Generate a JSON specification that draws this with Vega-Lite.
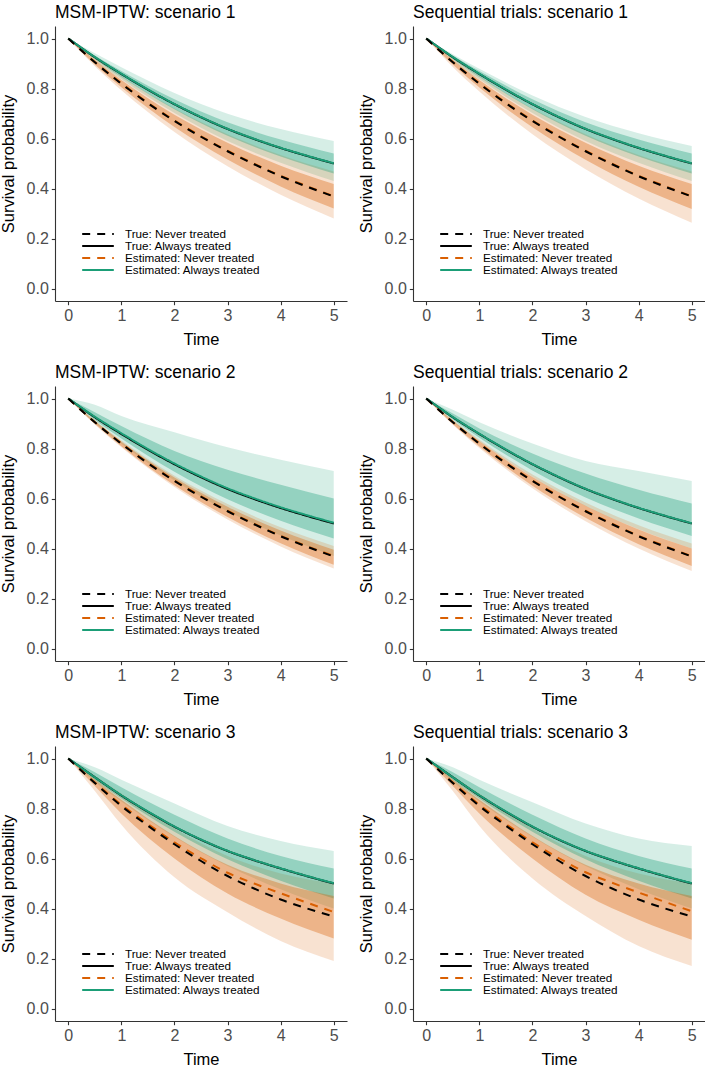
{
"$schema": "https://vega.github.io/schema/vega-lite/v6.json",
"padding": {"left": 0, "top": 3, "right": 0, "bottom": 0},
"datasets": {
"lines": [
{"p":1,"t":0,"tn":1,"ta":1,"en":1,"ea":1},{"p":1,"t":0.5,"tn":0.905,"ta":0.925,"en":0.906,"ea":0.926},{"p":1,"t":1,"tn":0.819,"ta":0.858,"en":0.821,"ea":0.859},{"p":1,"t":1.5,"tn":0.741,"ta":0.795,"en":0.743,"ea":0.796},{"p":1,"t":2,"tn":0.670,"ta":0.737,"en":0.672,"ea":0.738},{"p":1,"t":2.5,"tn":0.607,"ta":0.685,"en":0.609,"ea":0.686},{"p":1,"t":3,"tn":0.549,"ta":0.638,"en":0.551,"ea":0.639},{"p":1,"t":3.5,"tn":0.497,"ta":0.598,"en":0.499,"ea":0.599},{"p":1,"t":4,"tn":0.449,"ta":0.562,"en":0.451,"ea":0.563},{"p":1,"t":4.5,"tn":0.407,"ta":0.530,"en":0.409,"ea":0.531},{"p":1,"t":5,"tn":0.368,"ta":0.500,"en":0.369,"ea":0.501},
{"p":2,"t":0,"tn":1,"ta":1,"en":1,"ea":1},{"p":2,"t":0.5,"tn":0.905,"ta":0.925,"en":0.906,"ea":0.927},{"p":2,"t":1,"tn":0.819,"ta":0.858,"en":0.821,"ea":0.861},{"p":2,"t":1.5,"tn":0.741,"ta":0.795,"en":0.743,"ea":0.798},{"p":2,"t":2,"tn":0.670,"ta":0.737,"en":0.672,"ea":0.740},{"p":2,"t":2.5,"tn":0.607,"ta":0.685,"en":0.609,"ea":0.688},{"p":2,"t":3,"tn":0.549,"ta":0.638,"en":0.551,"ea":0.641},{"p":2,"t":3.5,"tn":0.497,"ta":0.598,"en":0.499,"ea":0.601},{"p":2,"t":4,"tn":0.449,"ta":0.562,"en":0.451,"ea":0.565},{"p":2,"t":4.5,"tn":0.407,"ta":0.530,"en":0.409,"ea":0.533},{"p":2,"t":5,"tn":0.368,"ta":0.500,"en":0.370,"ea":0.503},
{"p":3,"t":0,"tn":1,"ta":1,"en":1,"ea":1},{"p":3,"t":0.5,"tn":0.902,"ta":0.925,"en":0.904,"ea":0.925},{"p":3,"t":1,"tn":0.810,"ta":0.852,"en":0.815,"ea":0.853},{"p":3,"t":1.5,"tn":0.731,"ta":0.787,"en":0.738,"ea":0.788},{"p":3,"t":2,"tn":0.657,"ta":0.727,"en":0.665,"ea":0.728},{"p":3,"t":2.5,"tn":0.590,"ta":0.675,"en":0.601,"ea":0.676},{"p":3,"t":3,"tn":0.530,"ta":0.630,"en":0.543,"ea":0.631},{"p":3,"t":3.5,"tn":0.480,"ta":0.593,"en":0.500,"ea":0.594},{"p":3,"t":4,"tn":0.436,"ta":0.560,"en":0.461,"ea":0.561},{"p":3,"t":4.5,"tn":0.400,"ta":0.529,"en":0.423,"ea":0.530},{"p":3,"t":5,"tn":0.368,"ta":0.500,"en":0.386,"ea":0.501},
{"p":4,"t":0,"tn":1,"ta":1,"en":1,"ea":1},{"p":4,"t":0.5,"tn":0.905,"ta":0.925,"en":0.906,"ea":0.926},{"p":4,"t":1,"tn":0.819,"ta":0.858,"en":0.821,"ea":0.859},{"p":4,"t":1.5,"tn":0.741,"ta":0.795,"en":0.743,"ea":0.796},{"p":4,"t":2,"tn":0.670,"ta":0.737,"en":0.672,"ea":0.738},{"p":4,"t":2.5,"tn":0.607,"ta":0.685,"en":0.609,"ea":0.686},{"p":4,"t":3,"tn":0.549,"ta":0.638,"en":0.551,"ea":0.639},{"p":4,"t":3.5,"tn":0.497,"ta":0.598,"en":0.499,"ea":0.599},{"p":4,"t":4,"tn":0.449,"ta":0.562,"en":0.451,"ea":0.563},{"p":4,"t":4.5,"tn":0.407,"ta":0.530,"en":0.409,"ea":0.531},{"p":4,"t":5,"tn":0.368,"ta":0.500,"en":0.369,"ea":0.501},
{"p":5,"t":0,"tn":1,"ta":1,"en":1,"ea":1},{"p":5,"t":0.5,"tn":0.905,"ta":0.925,"en":0.906,"ea":0.926},{"p":5,"t":1,"tn":0.819,"ta":0.858,"en":0.821,"ea":0.859},{"p":5,"t":1.5,"tn":0.741,"ta":0.795,"en":0.743,"ea":0.796},{"p":5,"t":2,"tn":0.670,"ta":0.737,"en":0.672,"ea":0.738},{"p":5,"t":2.5,"tn":0.607,"ta":0.685,"en":0.609,"ea":0.686},{"p":5,"t":3,"tn":0.549,"ta":0.638,"en":0.551,"ea":0.639},{"p":5,"t":3.5,"tn":0.497,"ta":0.598,"en":0.499,"ea":0.599},{"p":5,"t":4,"tn":0.449,"ta":0.562,"en":0.451,"ea":0.563},{"p":5,"t":4.5,"tn":0.407,"ta":0.530,"en":0.409,"ea":0.531},{"p":5,"t":5,"tn":0.368,"ta":0.500,"en":0.369,"ea":0.501},
{"p":6,"t":0,"tn":1,"ta":1,"en":1,"ea":1},{"p":6,"t":0.5,"tn":0.902,"ta":0.925,"en":0.904,"ea":0.925},{"p":6,"t":1,"tn":0.810,"ta":0.852,"en":0.815,"ea":0.853},{"p":6,"t":1.5,"tn":0.731,"ta":0.787,"en":0.738,"ea":0.788},{"p":6,"t":2,"tn":0.657,"ta":0.727,"en":0.665,"ea":0.728},{"p":6,"t":2.5,"tn":0.590,"ta":0.675,"en":0.601,"ea":0.676},{"p":6,"t":3,"tn":0.530,"ta":0.630,"en":0.545,"ea":0.631},{"p":6,"t":3.5,"tn":0.480,"ta":0.593,"en":0.503,"ea":0.594},{"p":6,"t":4,"tn":0.436,"ta":0.560,"en":0.464,"ea":0.561},{"p":6,"t":4.5,"tn":0.400,"ta":0.529,"en":0.426,"ea":0.530},{"p":6,"t":5,"tn":0.368,"ta":0.500,"en":0.389,"ea":0.501}
],
"bands": [
{"p":1,"g":"g","t":0,"lo1":1,"hi1":1,"lo2":1,"hi2":1},{"p":1,"g":"g","t":0.5,"lo1":0.9125,"hi1":0.941,"lo2":0.918,"hi2":0.932},{"p":1,"g":"g","t":1,"lo1":0.837,"hi1":0.885,"lo2":0.846,"hi2":0.870},{"p":1,"g":"g","t":2,"lo1":0.702,"hi1":0.782,"lo2":0.717,"hi2":0.757},{"p":1,"g":"g","t":3,"lo1":0.590,"hi1":0.699,"lo2":0.611,"hi2":0.665},{"p":1,"g":"g","t":4,"lo1":0.503,"hi1":0.638,"lo2":0.528,"hi2":0.596},{"p":1,"g":"g","t":5,"lo1":0.43,"hi1":0.59,"lo2":0.46,"hi2":0.54},
{"p":1,"g":"o","t":0,"lo1":1,"hi1":1,"lo2":1,"hi2":1},{"p":1,"g":"o","t":0.5,"lo1":0.889,"hi1":0.923,"lo2":0.896,"hi2":0.914},{"p":1,"g":"o","t":1,"lo1":0.793,"hi1":0.849,"lo2":0.805,"hi2":0.834},{"p":1,"g":"o","t":2,"lo1":0.626,"hi1":0.720,"lo2":0.646,"hi2":0.695},{"p":1,"g":"o","t":3,"lo1":0.489,"hi1":0.617,"lo2":0.516,"hi2":0.583},{"p":1,"g":"o","t":4,"lo1":0.375,"hi1":0.534,"lo2":0.408,"hi2":0.491},{"p":1,"g":"o","t":5,"lo1":0.28,"hi1":0.468,"lo2":0.32,"hi2":0.418},
{"p":2,"g":"g","t":0,"lo1":1,"hi1":1,"lo2":1,"hi2":1},{"p":2,"g":"g","t":0.5,"lo1":0.902,"hi1":0.975,"lo2":0.914,"hi2":0.945},{"p":2,"g":"g","t":1,"lo1":0.819,"hi1":0.93,"lo2":0.840,"hi2":0.89},{"p":2,"g":"g","t":2,"lo1":0.672,"hi1":0.865,"lo2":0.707,"hi2":0.79},{"p":2,"g":"g","t":3,"lo1":0.549,"hi1":0.805,"lo2":0.597,"hi2":0.715},{"p":2,"g":"g","t":4,"lo1":0.452,"hi1":0.755,"lo2":0.511,"hi2":0.655},{"p":2,"g":"g","t":5,"lo1":0.37,"hi1":0.71,"lo2":0.44,"hi2":0.60},
{"p":2,"g":"o","t":0,"lo1":1,"hi1":1,"lo2":1,"hi2":1},{"p":2,"g":"o","t":0.5,"lo1":0.8965,"hi1":0.9125,"lo2":0.899,"hi2":0.910},{"p":2,"g":"o","t":1,"lo1":0.805,"hi1":0.832,"lo2":0.809,"hi2":0.827},{"p":2,"g":"o","t":2,"lo1":0.646,"hi1":0.691,"lo2":0.653,"hi2":0.684},{"p":2,"g":"o","t":3,"lo1":0.516,"hi1":0.578,"lo2":0.526,"hi2":0.567},{"p":2,"g":"o","t":4,"lo1":0.408,"hi1":0.485,"lo2":0.421,"hi2":0.472},{"p":2,"g":"o","t":5,"lo1":0.32,"hi1":0.41,"lo2":0.335,"hi2":0.395},
{"p":3,"g":"g","t":0,"lo1":1,"hi1":1,"lo2":1,"hi2":1},{"p":3,"g":"g","t":0.5,"lo1":0.907,"hi1":0.965,"lo2":0.914,"hi2":0.945},{"p":3,"g":"g","t":1,"lo1":0.828,"hi1":0.915,"lo2":0.840,"hi2":0.885},{"p":3,"g":"g","t":2,"lo1":0.687,"hi1":0.82,"lo2":0.707,"hi2":0.775},{"p":3,"g":"g","t":3,"lo1":0.570,"hi1":0.73,"lo2":0.597,"hi2":0.68},{"p":3,"g":"g","t":4,"lo1":0.477,"hi1":0.67,"lo2":0.511,"hi2":0.61},{"p":3,"g":"g","t":5,"lo1":0.40,"hi1":0.63,"lo2":0.44,"hi2":0.56},
{"p":3,"g":"o","t":0,"lo1":1,"hi1":1,"lo2":1,"hi2":1},{"p":3,"g":"o","t":0.5,"lo1":0.87,"hi1":0.93,"lo2":0.89,"hi2":0.915},{"p":3,"g":"o","t":1,"lo1":0.735,"hi1":0.86,"lo2":0.78,"hi2":0.835},{"p":3,"g":"o","t":2,"lo1":0.525,"hi1":0.72,"lo2":0.60,"hi2":0.69},{"p":3,"g":"o","t":3,"lo1":0.385,"hi1":0.61,"lo2":0.46,"hi2":0.575},{"p":3,"g":"o","t":4,"lo1":0.27,"hi1":0.54,"lo2":0.36,"hi2":0.50},{"p":3,"g":"o","t":5,"lo1":0.19,"hi1":0.50,"lo2":0.28,"hi2":0.45},
{"p":4,"g":"g","t":0,"lo1":1,"hi1":1,"lo2":1,"hi2":1},{"p":4,"g":"g","t":0.5,"lo1":0.9125,"hi1":0.9375,"lo2":0.918,"hi2":0.932},{"p":4,"g":"g","t":1,"lo1":0.837,"hi1":0.879,"lo2":0.846,"hi2":0.870},{"p":4,"g":"g","t":2,"lo1":0.702,"hi1":0.772,"lo2":0.717,"hi2":0.757},{"p":4,"g":"g","t":3,"lo1":0.590,"hi1":0.686,"lo2":0.611,"hi2":0.665},{"p":4,"g":"g","t":4,"lo1":0.503,"hi1":0.621,"lo2":0.528,"hi2":0.596},{"p":4,"g":"g","t":5,"lo1":0.43,"hi1":0.57,"lo2":0.46,"hi2":0.54},
{"p":4,"g":"o","t":0,"lo1":1,"hi1":1,"lo2":1,"hi2":1},{"p":4,"g":"o","t":0.5,"lo1":0.886,"hi1":0.923,"lo2":0.896,"hi2":0.914},{"p":4,"g":"o","t":1,"lo1":0.788,"hi1":0.849,"lo2":0.804,"hi2":0.834},{"p":4,"g":"o","t":2,"lo1":0.617,"hi1":0.720,"lo2":0.645,"hi2":0.695},{"p":4,"g":"o","t":3,"lo1":0.477,"hi1":0.617,"lo2":0.515,"hi2":0.583},{"p":4,"g":"o","t":4,"lo1":0.360,"hi1":0.534,"lo2":0.407,"hi2":0.491},{"p":4,"g":"o","t":5,"lo1":0.263,"hi1":0.468,"lo2":0.318,"hi2":0.418},
{"p":5,"g":"g","t":0,"lo1":1,"hi1":1,"lo2":1,"hi2":1},{"p":5,"g":"g","t":0.5,"lo1":0.907,"hi1":0.955,"lo2":0.916,"hi2":0.94},{"p":5,"g":"g","t":1,"lo1":0.828,"hi1":0.905,"lo2":0.843,"hi2":0.88},{"p":5,"g":"g","t":2,"lo1":0.687,"hi1":0.82,"lo2":0.712,"hi2":0.78},{"p":5,"g":"g","t":3,"lo1":0.570,"hi1":0.75,"lo2":0.604,"hi2":0.70},{"p":5,"g":"g","t":4,"lo1":0.477,"hi1":0.71,"lo2":0.520,"hi2":0.635},{"p":5,"g":"g","t":5,"lo1":0.40,"hi1":0.67,"lo2":0.45,"hi2":0.58},
{"p":5,"g":"o","t":0,"lo1":1,"hi1":1,"lo2":1,"hi2":1},{"p":5,"g":"o","t":0.5,"lo1":0.895,"hi1":0.914,"lo2":0.898,"hi2":0.911},{"p":5,"g":"o","t":1,"lo1":0.802,"hi1":0.835,"lo2":0.808,"hi2":0.829},{"p":5,"g":"o","t":2,"lo1":0.641,"hi1":0.696,"lo2":0.651,"hi2":0.686},{"p":5,"g":"o","t":3,"lo1":0.509,"hi1":0.584,"lo2":0.523,"hi2":0.571},{"p":5,"g":"o","t":4,"lo1":0.400,"hi1":0.493,"lo2":0.417,"hi2":0.476},{"p":5,"g":"o","t":5,"lo1":0.31,"hi1":0.42,"lo2":0.33,"hi2":0.40},
{"p":6,"g":"g","t":0,"lo1":1,"hi1":1,"lo2":1,"hi2":1},{"p":6,"g":"g","t":0.5,"lo1":0.907,"hi1":0.965,"lo2":0.914,"hi2":0.945},{"p":6,"g":"g","t":1,"lo1":0.828,"hi1":0.915,"lo2":0.840,"hi2":0.885},{"p":6,"g":"g","t":2,"lo1":0.687,"hi1":0.825,"lo2":0.707,"hi2":0.775},{"p":6,"g":"g","t":3,"lo1":0.570,"hi1":0.74,"lo2":0.597,"hi2":0.68},{"p":6,"g":"g","t":4,"lo1":0.477,"hi1":0.68,"lo2":0.511,"hi2":0.61},{"p":6,"g":"g","t":5,"lo1":0.40,"hi1":0.65,"lo2":0.44,"hi2":0.56},
{"p":6,"g":"o","t":0,"lo1":1,"hi1":1,"lo2":1,"hi2":1},{"p":6,"g":"o","t":0.5,"lo1":0.87,"hi1":0.93,"lo2":0.89,"hi2":0.915},{"p":6,"g":"o","t":1,"lo1":0.73,"hi1":0.86,"lo2":0.78,"hi2":0.835},{"p":6,"g":"o","t":2,"lo1":0.52,"hi1":0.72,"lo2":0.60,"hi2":0.69},{"p":6,"g":"o","t":3,"lo1":0.37,"hi1":0.61,"lo2":0.455,"hi2":0.575},{"p":6,"g":"o","t":4,"lo1":0.25,"hi1":0.54,"lo2":0.355,"hi2":0.50},{"p":6,"g":"o","t":5,"lo1":0.17,"hi1":0.50,"lo2":0.275,"hi2":0.45}
]
},
"columns": 2,
"spacing": {"row": 14, "column": 11},
"resolve": {"scale": {"color": "independent", "strokeDash": "independent", "fill": "independent"}},
"concat": [
{"title": "MSM-IPTW: scenario 1", "width": 292, "height": 275,
 "encoding": {"x": {"field": "t", "type": "quantitative", "scale": {"domain": [-0.25, 5.25], "nice": false, "zero": false}, "axis": {"values": [0,1,2,3,4,5], "title": "Time"}}},
 "layer": [
  {"data": {"name": "bands"}, "transform": [{"filter": "datum.p == 1"}], "mark": {"type": "area", "opacity": 0.18, "interpolate": "monotone"},
   "encoding": {"y": {"field": "lo1", "type": "quantitative", "stack": null, "scale": {"domain": [-0.05, 1.05], "nice": false, "zero": false}, "axis": {"values": [0,0.2,0.4,0.6,0.8,1], "format": ".1f", "title": "Survival probability"}}, "y2": {"field": "hi1"}, "fill": {"field": "g", "type": "nominal", "scale": {"domain": ["g","o"], "range": ["#1b9e77","#d95f02"]}, "legend": null}}},
  {"data": {"name": "bands"}, "transform": [{"filter": "datum.p == 1"}], "mark": {"type": "area", "opacity": 0.35, "interpolate": "monotone"},
   "encoding": {"y": {"field": "lo2", "type": "quantitative", "stack": null}, "y2": {"field": "hi2"}, "fill": {"field": "g", "type": "nominal", "scale": {"domain": ["g","o"], "range": ["#1b9e77","#d95f02"]}, "legend": null}}},
  {"data": {"name": "lines"}, "transform": [{"filter": "datum.p == 1"}, {"fold": ["ta","en","ea","tn"], "as": ["s","v"]}], "mark": {"type": "line", "strokeWidth": 2, "interpolate": "monotone"},
   "encoding": {"y": {"field": "v", "type": "quantitative"},
    "color": {"field": "s", "type": "nominal", "scale": {"domain": ["tn","ta","en","ea"], "range": ["#000000","#000000","#d95f02","#1b9e77"]}, "legend": {"title": null, "labelExpr": "datum.label == 'tn' ? 'True: Never treated' : datum.label == 'ta' ? 'True: Always treated' : datum.label == 'en' ? 'Estimated: Never treated' : 'Estimated: Always treated'"}},
    "strokeDash": {"field": "s", "type": "nominal", "scale": {"domain": ["tn","ta","en","ea"], "range": [[8,7],[1,0],[8,7],[1,0]]}, "legend": {"title": null, "labelExpr": "datum.label == 'tn' ? 'True: Never treated' : datum.label == 'ta' ? 'True: Always treated' : datum.label == 'en' ? 'Estimated: Never treated' : 'Estimated: Always treated'"}}}}
 ]},
{"title": "Sequential trials: scenario 1", "width": 292, "height": 275,
 "encoding": {"x": {"field": "t", "type": "quantitative", "scale": {"domain": [-0.25, 5.25], "nice": false, "zero": false}, "axis": {"values": [0,1,2,3,4,5], "title": "Time"}}},
 "layer": [
  {"data": {"name": "bands"}, "transform": [{"filter": "datum.p == 4"}], "mark": {"type": "area", "opacity": 0.18, "interpolate": "monotone"},
   "encoding": {"y": {"field": "lo1", "type": "quantitative", "stack": null, "scale": {"domain": [-0.05, 1.05], "nice": false, "zero": false}, "axis": {"values": [0,0.2,0.4,0.6,0.8,1], "format": ".1f", "title": "Survival probability"}}, "y2": {"field": "hi1"}, "fill": {"field": "g", "type": "nominal", "scale": {"domain": ["g","o"], "range": ["#1b9e77","#d95f02"]}, "legend": null}}},
  {"data": {"name": "bands"}, "transform": [{"filter": "datum.p == 4"}], "mark": {"type": "area", "opacity": 0.35, "interpolate": "monotone"},
   "encoding": {"y": {"field": "lo2", "type": "quantitative", "stack": null}, "y2": {"field": "hi2"}, "fill": {"field": "g", "type": "nominal", "scale": {"domain": ["g","o"], "range": ["#1b9e77","#d95f02"]}, "legend": null}}},
  {"data": {"name": "lines"}, "transform": [{"filter": "datum.p == 4"}, {"fold": ["ta","en","ea","tn"], "as": ["s","v"]}], "mark": {"type": "line", "strokeWidth": 2, "interpolate": "monotone"},
   "encoding": {"y": {"field": "v", "type": "quantitative"},
    "color": {"field": "s", "type": "nominal", "scale": {"domain": ["tn","ta","en","ea"], "range": ["#000000","#000000","#d95f02","#1b9e77"]}, "legend": {"title": null, "labelExpr": "datum.label == 'tn' ? 'True: Never treated' : datum.label == 'ta' ? 'True: Always treated' : datum.label == 'en' ? 'Estimated: Never treated' : 'Estimated: Always treated'"}},
    "strokeDash": {"field": "s", "type": "nominal", "scale": {"domain": ["tn","ta","en","ea"], "range": [[8,7],[1,0],[8,7],[1,0]]}, "legend": {"title": null, "labelExpr": "datum.label == 'tn' ? 'True: Never treated' : datum.label == 'ta' ? 'True: Always treated' : datum.label == 'en' ? 'Estimated: Never treated' : 'Estimated: Always treated'"}}}}
 ]},
{"title": "MSM-IPTW: scenario 2", "width": 292, "height": 275,
 "encoding": {"x": {"field": "t", "type": "quantitative", "scale": {"domain": [-0.25, 5.25], "nice": false, "zero": false}, "axis": {"values": [0,1,2,3,4,5], "title": "Time"}}},
 "layer": [
  {"data": {"name": "bands"}, "transform": [{"filter": "datum.p == 2"}], "mark": {"type": "area", "opacity": 0.18, "interpolate": "monotone"},
   "encoding": {"y": {"field": "lo1", "type": "quantitative", "stack": null, "scale": {"domain": [-0.05, 1.05], "nice": false, "zero": false}, "axis": {"values": [0,0.2,0.4,0.6,0.8,1], "format": ".1f", "title": "Survival probability"}}, "y2": {"field": "hi1"}, "fill": {"field": "g", "type": "nominal", "scale": {"domain": ["g","o"], "range": ["#1b9e77","#d95f02"]}, "legend": null}}},
  {"data": {"name": "bands"}, "transform": [{"filter": "datum.p == 2"}], "mark": {"type": "area", "opacity": 0.35, "interpolate": "monotone"},
   "encoding": {"y": {"field": "lo2", "type": "quantitative", "stack": null}, "y2": {"field": "hi2"}, "fill": {"field": "g", "type": "nominal", "scale": {"domain": ["g","o"], "range": ["#1b9e77","#d95f02"]}, "legend": null}}},
  {"data": {"name": "lines"}, "transform": [{"filter": "datum.p == 2"}, {"fold": ["ta","en","ea","tn"], "as": ["s","v"]}], "mark": {"type": "line", "strokeWidth": 2, "interpolate": "monotone"},
   "encoding": {"y": {"field": "v", "type": "quantitative"},
    "color": {"field": "s", "type": "nominal", "scale": {"domain": ["tn","ta","en","ea"], "range": ["#000000","#000000","#d95f02","#1b9e77"]}, "legend": {"title": null, "labelExpr": "datum.label == 'tn' ? 'True: Never treated' : datum.label == 'ta' ? 'True: Always treated' : datum.label == 'en' ? 'Estimated: Never treated' : 'Estimated: Always treated'"}},
    "strokeDash": {"field": "s", "type": "nominal", "scale": {"domain": ["tn","ta","en","ea"], "range": [[8,7],[1,0],[8,7],[1,0]]}, "legend": {"title": null, "labelExpr": "datum.label == 'tn' ? 'True: Never treated' : datum.label == 'ta' ? 'True: Always treated' : datum.label == 'en' ? 'Estimated: Never treated' : 'Estimated: Always treated'"}}}}
 ]},
{"title": "Sequential trials: scenario 2", "width": 292, "height": 275,
 "encoding": {"x": {"field": "t", "type": "quantitative", "scale": {"domain": [-0.25, 5.25], "nice": false, "zero": false}, "axis": {"values": [0,1,2,3,4,5], "title": "Time"}}},
 "layer": [
  {"data": {"name": "bands"}, "transform": [{"filter": "datum.p == 5"}], "mark": {"type": "area", "opacity": 0.18, "interpolate": "monotone"},
   "encoding": {"y": {"field": "lo1", "type": "quantitative", "stack": null, "scale": {"domain": [-0.05, 1.05], "nice": false, "zero": false}, "axis": {"values": [0,0.2,0.4,0.6,0.8,1], "format": ".1f", "title": "Survival probability"}}, "y2": {"field": "hi1"}, "fill": {"field": "g", "type": "nominal", "scale": {"domain": ["g","o"], "range": ["#1b9e77","#d95f02"]}, "legend": null}}},
  {"data": {"name": "bands"}, "transform": [{"filter": "datum.p == 5"}], "mark": {"type": "area", "opacity": 0.35, "interpolate": "monotone"},
   "encoding": {"y": {"field": "lo2", "type": "quantitative", "stack": null}, "y2": {"field": "hi2"}, "fill": {"field": "g", "type": "nominal", "scale": {"domain": ["g","o"], "range": ["#1b9e77","#d95f02"]}, "legend": null}}},
  {"data": {"name": "lines"}, "transform": [{"filter": "datum.p == 5"}, {"fold": ["ta","en","ea","tn"], "as": ["s","v"]}], "mark": {"type": "line", "strokeWidth": 2, "interpolate": "monotone"},
   "encoding": {"y": {"field": "v", "type": "quantitative"},
    "color": {"field": "s", "type": "nominal", "scale": {"domain": ["tn","ta","en","ea"], "range": ["#000000","#000000","#d95f02","#1b9e77"]}, "legend": {"title": null, "labelExpr": "datum.label == 'tn' ? 'True: Never treated' : datum.label == 'ta' ? 'True: Always treated' : datum.label == 'en' ? 'Estimated: Never treated' : 'Estimated: Always treated'"}},
    "strokeDash": {"field": "s", "type": "nominal", "scale": {"domain": ["tn","ta","en","ea"], "range": [[8,7],[1,0],[8,7],[1,0]]}, "legend": {"title": null, "labelExpr": "datum.label == 'tn' ? 'True: Never treated' : datum.label == 'ta' ? 'True: Always treated' : datum.label == 'en' ? 'Estimated: Never treated' : 'Estimated: Always treated'"}}}}
 ]},
{"title": "MSM-IPTW: scenario 3", "width": 292, "height": 275,
 "encoding": {"x": {"field": "t", "type": "quantitative", "scale": {"domain": [-0.25, 5.25], "nice": false, "zero": false}, "axis": {"values": [0,1,2,3,4,5], "title": "Time"}}},
 "layer": [
  {"data": {"name": "bands"}, "transform": [{"filter": "datum.p == 3"}], "mark": {"type": "area", "opacity": 0.18, "interpolate": "monotone"},
   "encoding": {"y": {"field": "lo1", "type": "quantitative", "stack": null, "scale": {"domain": [-0.05, 1.05], "nice": false, "zero": false}, "axis": {"values": [0,0.2,0.4,0.6,0.8,1], "format": ".1f", "title": "Survival probability"}}, "y2": {"field": "hi1"}, "fill": {"field": "g", "type": "nominal", "scale": {"domain": ["g","o"], "range": ["#1b9e77","#d95f02"]}, "legend": null}}},
  {"data": {"name": "bands"}, "transform": [{"filter": "datum.p == 3"}], "mark": {"type": "area", "opacity": 0.35, "interpolate": "monotone"},
   "encoding": {"y": {"field": "lo2", "type": "quantitative", "stack": null}, "y2": {"field": "hi2"}, "fill": {"field": "g", "type": "nominal", "scale": {"domain": ["g","o"], "range": ["#1b9e77","#d95f02"]}, "legend": null}}},
  {"data": {"name": "lines"}, "transform": [{"filter": "datum.p == 3"}, {"fold": ["ta","en","ea","tn"], "as": ["s","v"]}], "mark": {"type": "line", "strokeWidth": 2, "interpolate": "monotone"},
   "encoding": {"y": {"field": "v", "type": "quantitative"},
    "color": {"field": "s", "type": "nominal", "scale": {"domain": ["tn","ta","en","ea"], "range": ["#000000","#000000","#d95f02","#1b9e77"]}, "legend": {"title": null, "labelExpr": "datum.label == 'tn' ? 'True: Never treated' : datum.label == 'ta' ? 'True: Always treated' : datum.label == 'en' ? 'Estimated: Never treated' : 'Estimated: Always treated'"}},
    "strokeDash": {"field": "s", "type": "nominal", "scale": {"domain": ["tn","ta","en","ea"], "range": [[8,7],[1,0],[8,7],[1,0]]}, "legend": {"title": null, "labelExpr": "datum.label == 'tn' ? 'True: Never treated' : datum.label == 'ta' ? 'True: Always treated' : datum.label == 'en' ? 'Estimated: Never treated' : 'Estimated: Always treated'"}}}}
 ]},
{"title": "Sequential trials: scenario 3", "width": 292, "height": 275,
 "encoding": {"x": {"field": "t", "type": "quantitative", "scale": {"domain": [-0.25, 5.25], "nice": false, "zero": false}, "axis": {"values": [0,1,2,3,4,5], "title": "Time"}}},
 "layer": [
  {"data": {"name": "bands"}, "transform": [{"filter": "datum.p == 6"}], "mark": {"type": "area", "opacity": 0.18, "interpolate": "monotone"},
   "encoding": {"y": {"field": "lo1", "type": "quantitative", "stack": null, "scale": {"domain": [-0.05, 1.05], "nice": false, "zero": false}, "axis": {"values": [0,0.2,0.4,0.6,0.8,1], "format": ".1f", "title": "Survival probability"}}, "y2": {"field": "hi1"}, "fill": {"field": "g", "type": "nominal", "scale": {"domain": ["g","o"], "range": ["#1b9e77","#d95f02"]}, "legend": null}}},
  {"data": {"name": "bands"}, "transform": [{"filter": "datum.p == 6"}], "mark": {"type": "area", "opacity": 0.35, "interpolate": "monotone"},
   "encoding": {"y": {"field": "lo2", "type": "quantitative", "stack": null}, "y2": {"field": "hi2"}, "fill": {"field": "g", "type": "nominal", "scale": {"domain": ["g","o"], "range": ["#1b9e77","#d95f02"]}, "legend": null}}},
  {"data": {"name": "lines"}, "transform": [{"filter": "datum.p == 6"}, {"fold": ["ta","en","ea","tn"], "as": ["s","v"]}], "mark": {"type": "line", "strokeWidth": 2, "interpolate": "monotone"},
   "encoding": {"y": {"field": "v", "type": "quantitative"},
    "color": {"field": "s", "type": "nominal", "scale": {"domain": ["tn","ta","en","ea"], "range": ["#000000","#000000","#d95f02","#1b9e77"]}, "legend": {"title": null, "labelExpr": "datum.label == 'tn' ? 'True: Never treated' : datum.label == 'ta' ? 'True: Always treated' : datum.label == 'en' ? 'Estimated: Never treated' : 'Estimated: Always treated'"}},
    "strokeDash": {"field": "s", "type": "nominal", "scale": {"domain": ["tn","ta","en","ea"], "range": [[8,7],[1,0],[8,7],[1,0]]}, "legend": {"title": null, "labelExpr": "datum.label == 'tn' ? 'True: Never treated' : datum.label == 'ta' ? 'True: Always treated' : datum.label == 'en' ? 'Estimated: Never treated' : 'Estimated: Always treated'"}}}}
 ]}
],
"config": {
 "font": "Liberation Sans",
 "view": {"stroke": null},
 "axis": {"grid": false, "domainColor": "#333333", "domainWidth": 1.1, "tickColor": "#333333", "tickWidth": 1.1, "tickSize": 3.7, "labelFontSize": 16, "labelColor": "#4d4d4d", "titleFontSize": 16.5, "titleColor": "#000000", "titleFontWeight": "normal", "labelPadding": 3, "labelFlush": false},
 "axisY": {"titlePadding": 9.5},
 "axisX": {"titlePadding": 8},
 "title": {"anchor": "start", "frame": "group", "fontSize": 17.5, "fontWeight": "normal", "color": "#000000", "baseline": "alphabetic", "offset": 5},
 "legend": {"orient": "none", "legendX": 26, "legendY": 203, "symbolType": "stroke", "symbolSize": 1000, "symbolStrokeWidth": 2, "labelFontSize": 11.7, "labelColor": "#000000", "labelOffset": 10, "clipHeight": 10, "rowPadding": -2.5, "padding": 0, "labelLimit": 300}
}
}
